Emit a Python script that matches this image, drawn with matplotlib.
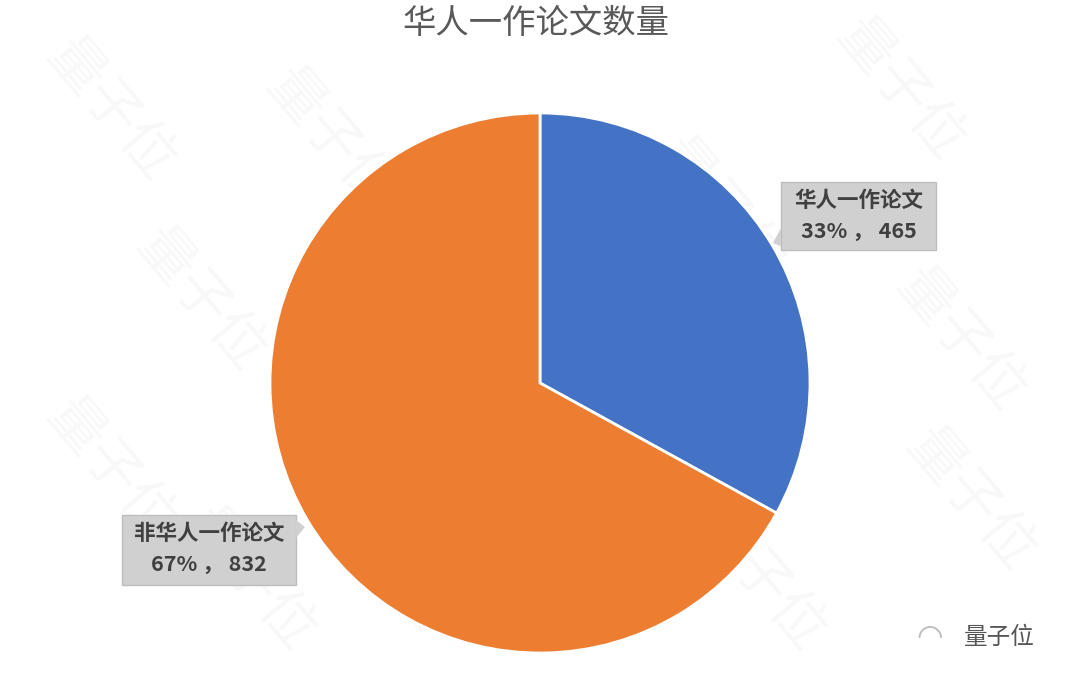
import matplotlib
matplotlib.use("Agg")
import matplotlib.pyplot as plt
from matplotlib.patches import Polygon

plt.rcParams['font.family'] = ['Noto Sans CJK SC', 'DejaVu Sans']

# ---- data ----
categories = ["华人一作论文", "非华人一作论文"]
shares = [33, 67]          # percent as shown on the chart
counts = [465, 832]
colors = ["#4472C4", "#ED7D31"]
title = "华人一作论文数量"

W, H = 1072, 684
fig = plt.figure(figsize=(W / 100, H / 100), dpi=100)
fig.patch.set_facecolor("white")

# faint watermarks
wm = fig.add_axes([0, 0, 1, 1], zorder=0)
wm.set_axis_off()
wm.set_xlim(0, W)
wm.set_ylim(H, 0)
for (x, y) in [(110, 110), (330, 140), (720, 210), (900, 90), (200, 300),
               (600, 360), (960, 340), (110, 470), (380, 560), (760, 580),
               (970, 500), (250, 580)]:
    wm.text(x, y, "量子位", fontsize=40, color="#000000", alpha=0.03,
            rotation=-50, ha="center", va="center")

# pie axes: center (540,383), radius 270 px
cx, cy, r = 540, 383, 270
ax = fig.add_axes([(cx - r) / W, (H - cy - r) / H, 2 * r / W, 2 * r / H], zorder=1)
wedges, _ = ax.pie(shares, colors=colors, startangle=90, counterclock=False,
                   radius=1.0, wedgeprops=dict(edgecolor="white", linewidth=2))
ax.set_xlim(-1, 1)
ax.set_ylim(-1, 1)
ax.set_axis_off()

# overlay for labels in pixel coords
ov = fig.add_axes([0, 0, 1, 1], zorder=2)
ov.set_axis_off()
ov.set_xlim(0, W)
ov.set_ylim(H, 0)

fig.text(0.5, 1 - 23 / H, title, ha="center", va="center",
         fontsize=24, color="#595959")

boxes = [
    dict(x0=781, y0=182, x1=936, y1=250, tri=[(781, 228), (781, 246), (773, 243)]),
    dict(x0=122, y0=515, x1=296, y1=585, tri=[(296, 520), (296, 538), (305, 527)]),
]
for i, b in enumerate(boxes):
    ov.add_patch(plt.Rectangle((b["x0"], b["y0"]), b["x1"] - b["x0"], b["y1"] - b["y0"],
                               facecolor="#d0d0d0", edgecolor="#bdbdbd", linewidth=1))
    ov.add_patch(Polygon(b["tri"], closed=True, facecolor="#d0d0d0", edgecolor="none"))
    xc = (b["x0"] + b["x1"]) / 2
    ov.text(xc, b["y0"] + 18, categories[i], ha="center", va="center",
            fontsize=15.5, fontweight="bold", color="#404040")
    ov.text(xc, b["y0"] + 49, f"{shares[i]}% ， {counts[i]}", ha="center", va="center",
            fontsize=15.5, fontweight="bold", color="#404040")

# logo bottom right
ov.text(930, 637, "◠", ha="center", va="center", fontsize=22, color="#bbbbbb",
        family=['DejaVu Sans'])
ov.text(999, 637, "量子位", ha="center", va="center", fontsize=17, color="#555555")

fig.savefig("out.png", dpi=100, facecolor="white")
